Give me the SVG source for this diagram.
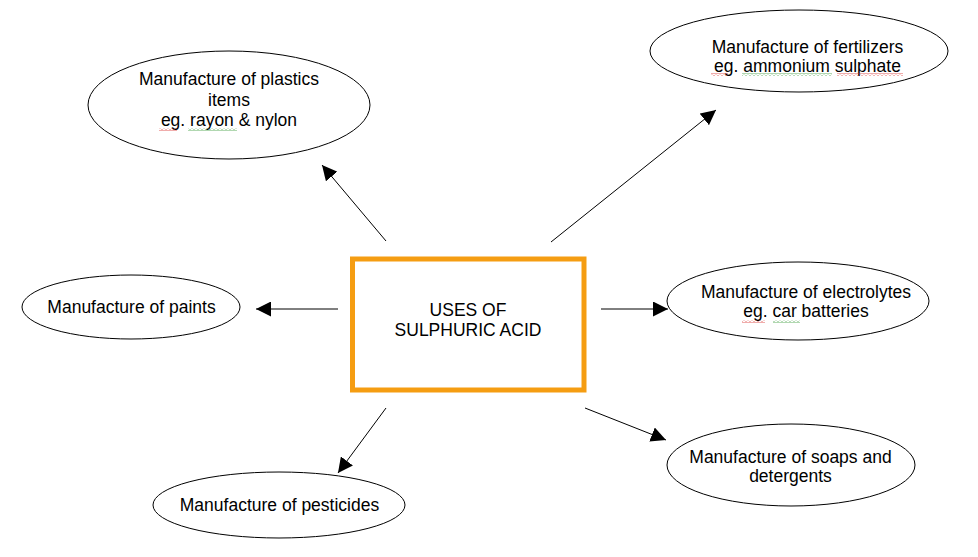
<svg xmlns="http://www.w3.org/2000/svg" width="978" height="557" viewBox="0 0 978 557">
<style>
.n ellipse{fill:#fff;stroke:#000;stroke-width:1}
text{font-family:"Liberation Sans",Arial,sans-serif;font-size:17.5px;fill:#000;text-anchor:middle}
.c line{stroke:#000;stroke-width:1;marker-end:url(#ah)}
.sr{fill:url(#wr)}
.sg{fill:url(#wg)}
</style>
<defs>
<marker id="ah" viewBox="0 0 10 10" refX="10" refY="5" markerWidth="15" markerHeight="15" markerUnits="userSpaceOnUse" orient="auto">
<path d="M0,0 L10,5 L0,10 z" fill="#000"/>
</marker>
<pattern id="wr" patternUnits="userSpaceOnUse" width="4" height="3">
<path d="M0,2.5 L2,0.5 L4,2.5" fill="none" stroke="#d9302c" stroke-width="0.8"/>
</pattern>
<pattern id="wg" patternUnits="userSpaceOnUse" width="4" height="3">
<path d="M0,2.5 L2,0.5 L4,2.5" fill="none" stroke="#3a9a3a" stroke-width="0.8"/>
</pattern>
</defs>
<rect width="978" height="557" fill="#fff"/>
<g class="c">
<line x1="386" y1="241" x2="322" y2="165"/>
<line x1="551" y1="242" x2="716" y2="110"/>
<line x1="338" y1="309" x2="256" y2="309"/>
<line x1="601" y1="309" x2="668" y2="309"/>
<line x1="585" y1="408" x2="666" y2="440"/>
<line x1="386" y1="408" x2="338" y2="473"/>
</g>
<g id="center">
<rect x="352.5" y="259" width="231.5" height="131" fill="#fff" stroke="#F59D12" stroke-width="5"/>
<text x="468" y="316">USES OF</text>
<text x="468" y="336">SULPHURIC ACID</text>
</g>
<g id="plastics" class="n">
<ellipse cx="229" cy="105" rx="141" ry="54"/>
<text x="229" y="85">Manufacture of plastics</text>
<text x="229" y="105.5">items</text>
<text x="229" y="126">eg. rayon &amp; nylon</text>
<rect class="sr" x="159" y="128" width="18" height="3"/>
<rect class="sg" x="188" y="128" width="49" height="3"/>
</g>
<g id="fertilizers" class="n">
<ellipse cx="799" cy="51" rx="149" ry="41"/>
<text x="807.5" y="52.7">Manufacture of fertilizers</text>
<text x="807.5" y="71.5">eg. ammonium sulphate</text>
<rect class="sr" x="711" y="73" width="17" height="3"/>
<rect class="sg" x="742" y="73" width="90" height="3"/>
<rect class="sr" x="837" y="73" width="66" height="3"/>
</g>
<g id="paints" class="n">
<ellipse cx="131" cy="307" rx="109" ry="32"/>
<text x="131.5" y="313">Manufacture of paints</text>
</g>
<g id="electrolytes" class="n">
<ellipse cx="798" cy="301" rx="131" ry="39"/>
<text x="806" y="298.3">Manufacture of electrolytes</text>
<text x="806" y="316.7">eg. car batteries</text>
<rect class="sr" x="742" y="320" width="23" height="3"/>
<rect class="sg" x="773" y="320" width="27" height="3"/>
</g>
<g id="soaps" class="n">
<ellipse cx="791" cy="465" rx="124" ry="41"/>
<text x="790.5" y="463.3">Manufacture of soaps and</text>
<text x="790.5" y="481.7">detergents</text>
</g>
<g id="pesticides" class="n">
<ellipse cx="279" cy="505" rx="126" ry="33"/>
<text x="279.5" y="511">Manufacture of pesticides</text>
</g>
</svg>
